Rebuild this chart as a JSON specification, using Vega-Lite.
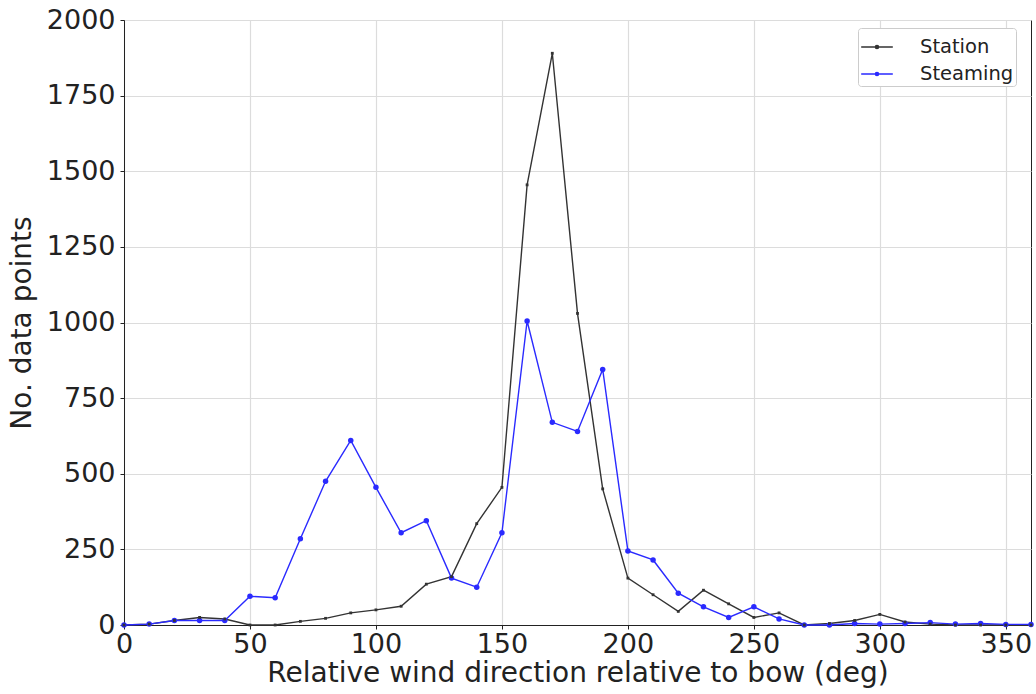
{
  "$schema": "https://vega.github.io/schema/vega-lite/v6.json",
  "autosize": {"type": "none"},
  "padding": {"left": 124, "top": 20, "right": 5, "bottom": 69},
  "width": 907,
  "height": 605,
  "background": "white",
  "config": {
    "font": "DejaVu Sans",
    "view": {"stroke": "#222222", "strokeWidth": 1}
  },
  "data": {
    "values": [
      {"dir": 0, "series": "Station", "n": 0},
      {"dir": 10, "series": "Station", "n": 3},
      {"dir": 20, "series": "Station", "n": 15},
      {"dir": 30, "series": "Station", "n": 25},
      {"dir": 40, "series": "Station", "n": 20},
      {"dir": 50, "series": "Station", "n": 0},
      {"dir": 60, "series": "Station", "n": 0},
      {"dir": 70, "series": "Station", "n": 12},
      {"dir": 80, "series": "Station", "n": 22},
      {"dir": 90, "series": "Station", "n": 40},
      {"dir": 100, "series": "Station", "n": 50},
      {"dir": 110, "series": "Station", "n": 62},
      {"dir": 120, "series": "Station", "n": 135},
      {"dir": 130, "series": "Station", "n": 160},
      {"dir": 140, "series": "Station", "n": 335},
      {"dir": 150, "series": "Station", "n": 455},
      {"dir": 160, "series": "Station", "n": 1455},
      {"dir": 170, "series": "Station", "n": 1890},
      {"dir": 180, "series": "Station", "n": 1030},
      {"dir": 190, "series": "Station", "n": 450},
      {"dir": 200, "series": "Station", "n": 155},
      {"dir": 210, "series": "Station", "n": 100},
      {"dir": 220, "series": "Station", "n": 45},
      {"dir": 230, "series": "Station", "n": 115},
      {"dir": 240, "series": "Station", "n": 70},
      {"dir": 250, "series": "Station", "n": 25},
      {"dir": 260, "series": "Station", "n": 40},
      {"dir": 270, "series": "Station", "n": 0},
      {"dir": 280, "series": "Station", "n": 5},
      {"dir": 290, "series": "Station", "n": 15},
      {"dir": 300, "series": "Station", "n": 35},
      {"dir": 310, "series": "Station", "n": 10},
      {"dir": 320, "series": "Station", "n": 3},
      {"dir": 330, "series": "Station", "n": 0},
      {"dir": 340, "series": "Station", "n": 0},
      {"dir": 350, "series": "Station", "n": 0},
      {"dir": 360, "series": "Station", "n": 0},
      {"dir": 0, "series": "Steaming", "n": 0},
      {"dir": 10, "series": "Steaming", "n": 3},
      {"dir": 20, "series": "Steaming", "n": 15},
      {"dir": 30, "series": "Steaming", "n": 15},
      {"dir": 40, "series": "Steaming", "n": 15},
      {"dir": 50, "series": "Steaming", "n": 95},
      {"dir": 60, "series": "Steaming", "n": 90},
      {"dir": 70, "series": "Steaming", "n": 285},
      {"dir": 80, "series": "Steaming", "n": 475},
      {"dir": 90, "series": "Steaming", "n": 610},
      {"dir": 100, "series": "Steaming", "n": 455},
      {"dir": 110, "series": "Steaming", "n": 305},
      {"dir": 120, "series": "Steaming", "n": 345},
      {"dir": 130, "series": "Steaming", "n": 155},
      {"dir": 140, "series": "Steaming", "n": 125},
      {"dir": 150, "series": "Steaming", "n": 305},
      {"dir": 160, "series": "Steaming", "n": 1005},
      {"dir": 170, "series": "Steaming", "n": 670},
      {"dir": 180, "series": "Steaming", "n": 640},
      {"dir": 190, "series": "Steaming", "n": 845},
      {"dir": 200, "series": "Steaming", "n": 245},
      {"dir": 210, "series": "Steaming", "n": 215},
      {"dir": 220, "series": "Steaming", "n": 105},
      {"dir": 230, "series": "Steaming", "n": 60},
      {"dir": 240, "series": "Steaming", "n": 25},
      {"dir": 250, "series": "Steaming", "n": 60},
      {"dir": 260, "series": "Steaming", "n": 20},
      {"dir": 270, "series": "Steaming", "n": 0},
      {"dir": 280, "series": "Steaming", "n": 0},
      {"dir": 290, "series": "Steaming", "n": 5},
      {"dir": 300, "series": "Steaming", "n": 3},
      {"dir": 310, "series": "Steaming", "n": 5},
      {"dir": 320, "series": "Steaming", "n": 8},
      {"dir": 330, "series": "Steaming", "n": 3},
      {"dir": 340, "series": "Steaming", "n": 5},
      {"dir": 350, "series": "Steaming", "n": 2},
      {"dir": 360, "series": "Steaming", "n": 2}
    ]
  },
  "encoding": {
    "x": {
      "field": "dir", "type": "quantitative",
      "scale": {"domain": [0, 360], "nice": false, "zero": false},
      "axis": {
        "title": "Relative wind direction relative to bow (deg)",
        "values": [0, 50, 100, 150, 200, 250, 300, 350],
        "format": "d", "labelFlush": false,
        "titleFontSize": 28, "titleFontWeight": "normal", "titleColor": "#222222", "titlePadding": 2,
        "labelFontSize": 27, "labelColor": "#222222", "labelPadding": 2,
        "tickSize": 4, "tickColor": "#222222",
        "domain": true, "domainColor": "#222222", "domainWidth": 1,
        "grid": true, "gridColor": "#dcdcdc", "gridWidth": 1.2
      }
    },
    "y": {
      "field": "n", "type": "quantitative",
      "scale": {"domain": [0, 2000], "nice": false},
      "axis": {
        "title": "No. data points",
        "values": [0, 250, 500, 750, 1000, 1250, 1500, 1750, 2000],
        "format": "d", "labelFlush": false,
        "titleFontSize": 28, "titleFontWeight": "normal", "titleColor": "#222222", "titlePadding": 10,
        "labelFontSize": 27, "labelColor": "#222222", "labelPadding": 5,
        "tickSize": 4, "tickColor": "#222222",
        "domain": true, "domainColor": "#222222", "domainWidth": 1,
        "grid": true, "gridColor": "#dcdcdc", "gridWidth": 1.2
      }
    },
    "color": {
      "field": "series", "type": "nominal",
      "scale": {"domain": ["Station", "Steaming"], "range": ["#333333", "#2a2aff"]},
      "legend": {
        "title": null,
        "orient": "none", "legendX": 734, "legendY": 8,
        "labelFontSize": 19.5, "labelColor": "#222222", "labelOffset": 26,
        "symbolType": "M-1,0H1M0.1,0A0.1,0.1 0 1,1 -0.1,0A0.1,0.1 0 1,1 0.1,0Z",
        "symbolSize": 1000, "symbolStrokeWidth": 1.5,
        "strokeColor": "#cccccc", "padding": 2, "rowPadding": -2,
        "fillColor": "white", "cornerRadius": 3
      }
    }
  },
  "layer": [
    {"mark": {"type": "line", "strokeWidth": 1.4}},
    {
      "transform": [{"filter": "datum.series == 'Steaming'"}],
      "mark": {"type": "circle", "size": 30, "opacity": 1}
    },
    {
      "transform": [{"filter": "datum.series == 'Station'"}],
      "mark": {"type": "square", "size": 8, "opacity": 1}
    }
  ]
}
